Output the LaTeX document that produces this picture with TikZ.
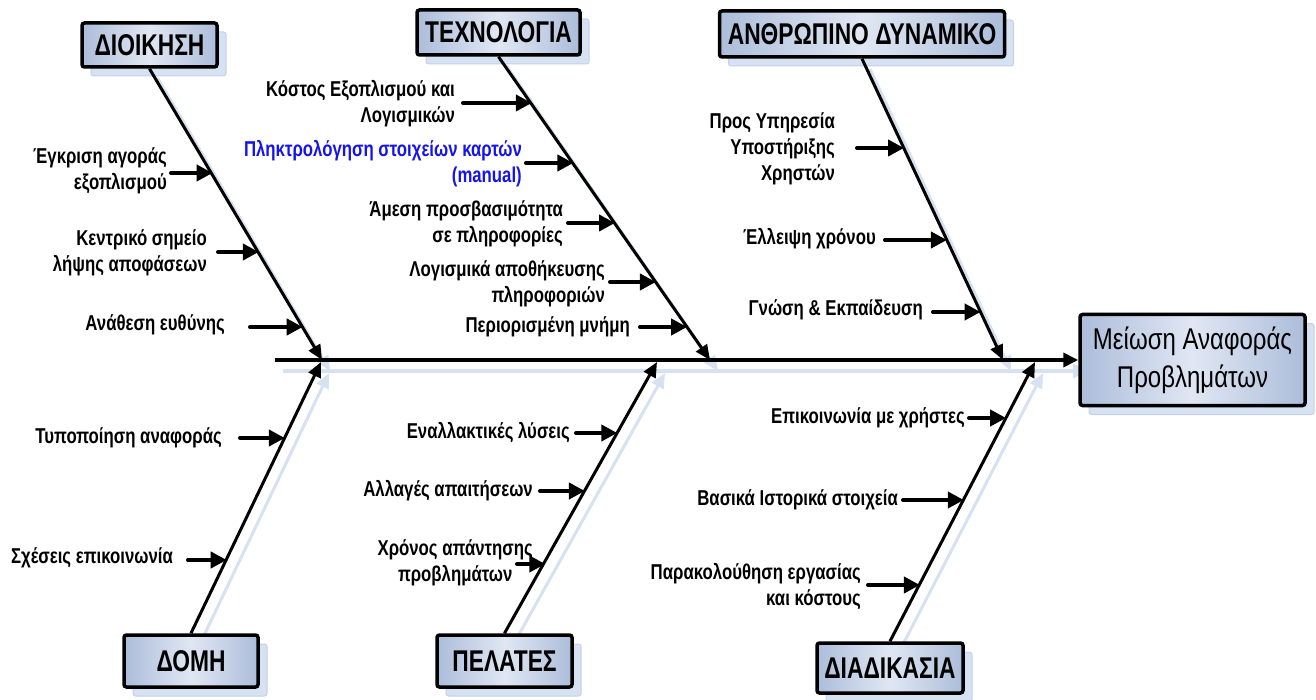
\documentclass[tikz,border=0pt]{standalone}
\usepackage{fontspec}
\setmainfont{Liberation Sans}[FakeStretch=0.80]
\newfontfamily\lblfont{Liberation Sans Bold}[FakeStretch=0.78]
\newfontfamily\catfont{Liberation Sans Bold}[FakeStretch=0.76]
\usetikzlibrary{arrows.meta,calc,shadows}
\definecolor{boxA}{RGB}{172,189,218}
\definecolor{boxB}{RGB}{224,231,243}
\definecolor{shadowc}{RGB}{214,225,241}
\definecolor{shadowedge}{RGB}{196,210,232}
\definecolor{labelblue}{RGB}{20,20,235}
\begin{document}
\begin{tikzpicture}[x=1pt,y=-1pt,
  catbox/.style={draw=black, line width=3.5pt, rounded corners=2.5pt,
    left color=boxA, right color=boxA, middle color=boxB,
    font=\catfont\fontsize{30}{34}\selectfont, inner sep=0pt,
    general shadow={fill=shadowc, draw=shadowedge, line width=1pt,
      shadow xshift=9pt, shadow yshift=-9pt}},
  bone/.style={line width=3pt, -{Triangle[length=15pt,width=13pt]}},
  spineline/.style={line width=3.6pt, -{Triangle[length=15pt,width=14pt]}},
  sub/.style={line width=4pt, line cap=round, -{Triangle[length=16pt,width=16pt]}},
  lbl/.style={font=\lblfont\fontsize{21.5}{26}\selectfont, align=right, inner sep=0pt, anchor=east},
  bluelbl/.style={lbl, text=labelblue},
]
\useasboundingbox (0,0) rectangle (1316,700);

% ---------- key coordinates ----------
\coordinate (Ae) at (322,360);
\coordinate (Be) at (710,360);
\coordinate (Ce) at (1003,360);
\coordinate (De) at (321,362);
\coordinate (Ee) at (657,362);
\coordinate (Fe) at (1035,362);
\coordinate (spS) at (275,360);

\path (149.5,45) coordinate (dioC) (498.5,32.5) coordinate (texC) (862,34) coordinate (anC)
      (191,661) coordinate (domC) (504.5,661) coordinate (pelC) (890,668) coordinate (diaC)
      (1192.5,360) coordinate (effC);

% ---------- shadows of bones and spine ----------
\begin{scope}[transform canvas={xshift=8pt,yshift=-11pt}, draw=shadowc, color=shadowc]
  \draw[bone] (149.5,67) -- (Ae);
  \draw[bone] (498.5,55) -- (Be);
  \draw[bone] (862,58) -- (Ce);
  \draw[bone] (191,635) -- (De);
  \draw[bone] (504.5,635) -- (Ee);
  \draw[bone] (890,643) -- (Fe);
  \draw[spineline] (spS) -- (1080,360);
\end{scope}

% ---------- category boxes ----------
\node[catbox, minimum width=135pt, minimum height=44pt] (dio) at (dioC) {ΔΙΟΙΚΗΣΗ};
\node[catbox, minimum width=163pt, minimum height=45pt] (tex) at (texC) {ΤΕΧΝΟΛΟΓΙΑ};
\node[catbox, minimum width=285pt, minimum height=46pt] (anth) at (anC) {ΑΝΘΡΩΠΙΝΟ ΔΥΝΑΜΙΚΟ};
\node[catbox, minimum width=134pt, minimum height=52pt] (dom) at (domC) {ΔΟΜΗ};
\node[catbox, minimum width=135pt, minimum height=52pt] (pel) at (pelC) {ΠΕΛΑΤΕΣ};
\node[catbox, minimum width=146pt, minimum height=50pt] (dia) at (diaC) {ΔΙΑΔΙΚΑΣΙΑ};
\node[catbox, minimum width=225pt, minimum height=91pt, align=center,
      font=\fontsize{30}{38}\selectfont] (eff) at (effC) {Μείωση Αναφοράς\\Προβλημάτων};

% ---------- bones ----------
\draw[bone] (dio.south) -- (Ae);
\draw[bone] (tex.south) -- (Be);
\draw[bone] (anth.south) -- (Ce);
\draw[bone] (dom.north) -- (De);
\draw[bone] (pel.north) -- (Ee);
\draw[bone] (dia.north) -- (Fe);
\draw[spineline] (spS) -- (eff.west);

% ---------- labels ----------
\node[lbl] (ta1) at (167,171) {Έγκριση αγοράς\\εξοπλισμού};
\node[lbl] (ta2) at (207,253) {Κεντρικό σημείο\\λήψης αποφάσεων};
\node[lbl] (ta3) at (225,325) {Ανάθεση ευθύνης};

\node[lbl] (tb1) at (455,104) {Κόστος Εξοπλισμού και\\Λογισμικών};
\node[bluelbl] (tb2) at (522,164) {Πληκτρολόγηση στοιχείων καρτών\\(manual)};
\node[lbl] (tb3) at (563,224) {Άμεση προσβασιμότητα\\σε πληροφορίες};
\node[lbl] (tb4) at (605,284) {Λογισμικά αποθήκευσης\\πληροφοριών};
\node[lbl] (tb5) at (630,327) {Περιορισμένη μνήμη};

\node[lbl] (tc1) at (835,149) {Προς Υπηρεσία\\Υποστήριξης\\Χρηστών};
\node[lbl] (tc2) at (876,239) {Έλλειψη χρόνου};
\node[lbl] (tc3) at (923,310) {Γνώση \& Εκπαίδευση};

\node[lbl] (td1) at (222,438) {Τυποποίηση αναφοράς};
\node[lbl] (td2) at (173,558) {Σχέσεις επικοινωνία};

\node[lbl] (te1) at (570,433) {Εναλλακτικές λύσεις};
\node[lbl] (te2) at (533,491) {Αλλαγές απαιτήσεων};
\node[lbl, align=center] (te3) at (533,563) {Χρόνος απάντησης\\προβλημάτων};

\node[lbl] (tf1) at (965,418) {Επικοινωνία με χρήστες};
\node[lbl] (tf2) at (898,500) {Βασικά Ιστορικά στοιχεία};
\node[lbl] (tf3) at (861,587) {Παρακολούθηση εργασίας\\και κόστους};

% ---------- sub-cause arrows ----------
\foreach \n/\sx/\ex/\yy in {
  a1/171/212.6/173, a2/218/258.8/252, a3/250/302.7/327,
  b1/463/531.8/103, b2/526/573.4/163, b3/568/615/223, b4/610/655.9/282, b5/640/687.1/327,
  c1/857/904/148, c2/885/946.9/240, c3/933/980.6/312,
  d1/240/284.8/438, d2/188/226.7/560,
  e1/576/617.3/433, e2/540/584.9/491, e3/517/545.3/564,
  f1/969/1006.1/418, f2/903/963.8/500, f3/868/919.9/585}{
  \coordinate (s\n) at (\sx,\yy);
  \coordinate (e\n) at (\ex,\yy);
  \draw[sub] (s\n) -- (e\n);
}
\end{tikzpicture}
\end{document}
